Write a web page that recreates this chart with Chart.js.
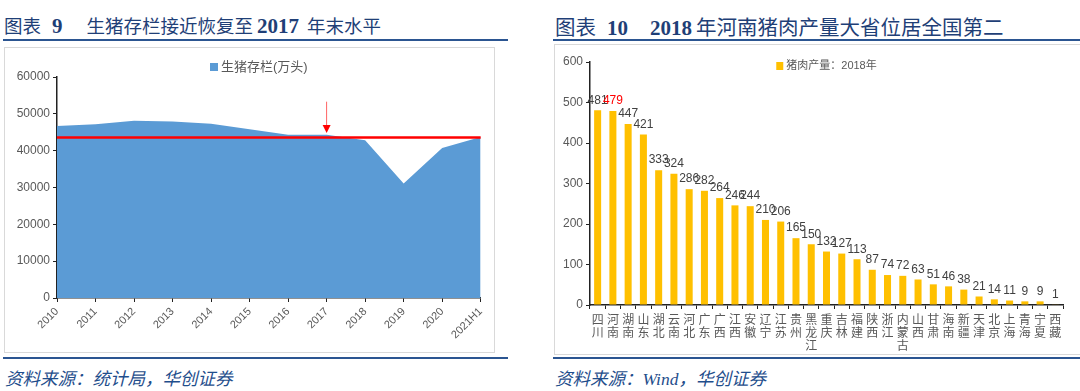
<!DOCTYPE html>
<html>
<head>
<meta charset="utf-8">
<script src="https://cdn.jsdelivr.net/npm/chart.js@4"></script>
<style>
  body { margin: 0; width: 1080px; height: 391px; background: #fff; position: relative; overflow: hidden; }
  .title { position: absolute; top: 12px; font-family: "Liberation Serif", "Noto Sans CJK SC"; color: #1F3F77; white-space: nowrap; }
  .title b { font-weight: bold; font-size: 21px; }
  .rule { position: absolute; height: 2px; background: #2B5591; }
  .box { position: absolute; border: 1px solid #d9d9d9; box-sizing: border-box; }
  .src { position: absolute; top: 365px; font-family: "Liberation Serif", "Noto Sans CJK SC"; font-style: italic; font-size: 17.5px; color: #1F4E8C; white-space: pre; }
  canvas { position: absolute; }
</style>
</head>
<body>
<div class="title" style="left:4px; font-size:18.5px;">图表<b style="margin-left:11px;">9</b><span style="margin-left:24px;">生猪存栏接近恢复至</span><b style="margin-left:4px;">2017</b><span style="margin-left:8px;">年末水平</span></div>
<div class="title" style="left:555px; top:11px; font-size:20.5px;">图表<b style="margin-left:11px;">10</b><b style="margin-left:22px;">2018</b><span style="margin-left:4px;">年河南猪肉产量大省位居全国第二</span></div>
<div class="rule" style="left:3px; width:505px; top:39px;"></div>
<div class="rule" style="left:553px; width:527px; top:39px;"></div>
<div class="box" style="left:4px; top:47px; width:491px; height:306px;"></div>
<div class="box" style="left:554px; top:44px; width:530px; height:311px;"></div>
<div class="rule" style="left:3px; width:505px; top:357px;"></div>
<div class="rule" style="left:553px; width:527px; top:357px;"></div>
<div class="src" style="left:5px;">资料来源：统计局，华创证券</div>
<div class="src" style="left:555px;">资料来源：Wind，华创证券</div>

<div style="position:absolute; left:5px; top:48px; width:488px; height:303px;"><canvas id="hogChart"></canvas></div>
<div style="position:absolute; left:556px; top:45px; width:520px; height:308px;"><canvas id="porkChart"></canvas></div>

<script>
// ---- chart 9 data ----
const years = ['2010', '2011', '2012', '2013', '2014', '2015', '2016', '2017', '2018', '2019', '2020', '2021H1'];
const hogStock = [46700, 47200, 48100, 47900, 47300, 45800, 44300, 44300, 42800, 31100, 40700, 43700];
const level2017 = [43600, 43600, 43600, 43600, 43600, 43600, 43600, 43600, 43600, 43600, 43600, 43600];
const hogTicks = [0, 10000, 20000, 30000, 40000, 50000, 60000];
const arrowAt = { index: 7, from: 53300, to: 44800 };

// ---- chart 10 data ----
const provinces = ['四川', '河南', '湖南', '山东', '湖北', '云南', '河北', '广东', '广西', '江西', '安徽', '辽宁', '江苏', '贵州', '黑龙江', '重庆',
    '吉林', '福建', '陕西', '浙江', '内蒙古', '山西', '甘肃', '海南', '新疆', '天津', '北京', '上海', '青海', '宁夏', '西藏'];
const porkOutput = [481, 479, 447, 421, 333, 324, 286, 282, 264, 246, 244, 210, 206, 165, 150, 132, 127, 113, 87, 74, 72, 63, 51, 46, 38, 21, 14, 11, 9, 9, 1];
const porkTicks = [0, 100, 200, 300, 400, 500, 600];
const highlightIndex = 1;

const fontFam = '"Liberation Sans", "Noto Sans CJK SC", sans-serif';
const tickColor = '#595959';

// small legend drawn above / at the top of the plot area
function drawLegend(chart, fontSize, boxW, boxH, dx, dy) {
    const ctx = chart.ctx;
    const area = chart.chartArea;
    const ds = chart.data.datasets[0];
    ctx.save();
    ctx.font = fontSize + 'px ' + fontFam;
    const tw = ctx.measureText(ds.label).width;
    const lx = (area.left + area.right) / 2 + dx - (tw + boxW + 3) / 2;
    const ly = area.top + dy;
    ctx.fillStyle = ds.backgroundColor;
    ctx.fillRect(lx, ly - boxH / 2, boxW, boxH);
    ctx.fillStyle = tickColor;
    ctx.textAlign = 'left';
    ctx.textBaseline = 'middle';
    ctx.fillText(ds.label, lx + boxW + 3, ly);
    ctx.restore();
}

const arrowPlugin = {
    id: 'arrow',
    afterDatasetsDraw(chart) {
        const ctx = chart.ctx;
        const x = chart.scales.x.getPixelForValue(arrowAt.index);
        const y1 = chart.scales.y.getPixelForValue(arrowAt.from);
        const y2 = chart.scales.y.getPixelForValue(arrowAt.to);
        ctx.save();
        ctx.strokeStyle = 'rgba(255, 60, 60, 0.8)';
        ctx.lineWidth = 1;
        ctx.beginPath();
        ctx.moveTo(x, y1);
        ctx.lineTo(x, y2 - 7);
        ctx.stroke();
        ctx.fillStyle = '#FF0000';
        ctx.beginPath();
        ctx.moveTo(x - 4, y2 - 8);
        ctx.lineTo(x + 4, y2 - 8);
        ctx.lineTo(x, y2);
        ctx.closePath();
        ctx.fill();
        ctx.restore();
        drawLegend(chart, 13, 8, 8, -10, -10);
    }
};

new Chart(document.getElementById('hogChart'), {
    type: 'line',
    data: {
        labels: years,
        datasets: [{
            label: '生猪存栏(万头)',
            data: hogStock,
            backgroundColor: '#5B9BD5',
            borderColor: '#5B9BD5',
            borderWidth: 0,
            pointRadius: 0,
            fill: 'origin',
            tension: 0,
            order: 2
        }, {
            label: 'level',
            data: level2017,
            borderColor: '#FF0000',
            borderWidth: 2.5,
            pointRadius: 0,
            fill: false,
            order: 1
        }]
    },
    options: {
        responsive: true,
        maintainAspectRatio: false,
        animation: false,
        layout: { padding: { top: 29, right: 9, left: 0, bottom: 0 } },
        plugins: {
            legend: { display: false },
            tooltip: { enabled: false }
        },
        scales: {
            x: {
                type: 'category',
                offset: false,
                grid: { display: true, drawOnChartArea: false, drawTicks: true, tickLength: 4, color: '#222' },
                border: { display: true, color: '#222', width: 1.5 },
                ticks: { color: tickColor, font: { family: fontFam, size: 11 }, maxRotation: 45, minRotation: 45, autoSkip: false, padding: 3 },
                afterFit: scale => { scale.height = 53; }
            },
            y: {
                min: 0, max: 60000,
                afterBuildTicks: scale => { scale.ticks = hogTicks.map(v => ({ value: v })); },
                grid: { display: true, drawOnChartArea: false, drawTicks: true, tickLength: 4, color: '#222' },
                border: { display: true, color: '#222', width: 1.5 },
                ticks: { color: tickColor, font: { family: fontFam, size: 12 }, padding: 3, callback: v => String(v) },
                afterFit: scale => { scale.width = 52; }
            }
        }
    },
    plugins: [arrowPlugin]
});

const labelPlugin = {
    id: 'barLabels',
    afterDatasetsDraw(chart) {
        const ctx = chart.ctx;
        const meta = chart.getDatasetMeta(0);
        ctx.save();
        ctx.font = '12px ' + fontFam;
        ctx.textAlign = 'center';
        ctx.textBaseline = 'bottom';
        meta.data.forEach((bar, i) => {
            ctx.fillStyle = i === highlightIndex ? '#FF0000' : '#404040';
            ctx.fillText(String(porkOutput[i]), bar.x, bar.y - 4);
        });
        ctx.restore();
        drawLegend(chart, 11, 7, 8, 0, 4);
    }
};

new Chart(document.getElementById('porkChart'), {
    type: 'bar',
    data: {
        labels: provinces.map(p => p.split('')),
        datasets: [{
            label: '猪肉产量：2018年',
            data: porkOutput,
            backgroundColor: '#FFC000',
            barPercentage: 0.46,
            categoryPercentage: 1
        }]
    },
    options: {
        responsive: true,
        maintainAspectRatio: false,
        animation: false,
        layout: { padding: { top: 17, right: 13, left: 0, bottom: 0 } },
        plugins: {
            legend: { display: false },
            tooltip: { enabled: false }
        },
        scales: {
            x: {
                grid: { display: true, drawOnChartArea: false, drawTicks: true, tickLength: 4, color: '#222', offset: true },
                border: { display: true, color: '#222', width: 1.5 },
                ticks: { color: tickColor, font: { family: fontFam, size: 12, lineHeight: 1.1 }, maxRotation: 0, autoSkip: false, padding: 5 },
                afterFit: scale => { scale.height = 48; }
            },
            y: {
                min: 0, max: 600,
                afterBuildTicks: scale => { scale.ticks = porkTicks.map(v => ({ value: v })); },
                grid: { display: true, drawOnChartArea: false, drawTicks: true, tickLength: 4, color: '#222' },
                border: { display: true, color: '#222', width: 1.5 },
                ticks: { color: tickColor, font: { family: fontFam, size: 12 }, padding: 3 },
                afterFit: scale => { scale.width = 34; }
            }
        }
    },
    plugins: [labelPlugin]
});
</script>
</body>
</html>
